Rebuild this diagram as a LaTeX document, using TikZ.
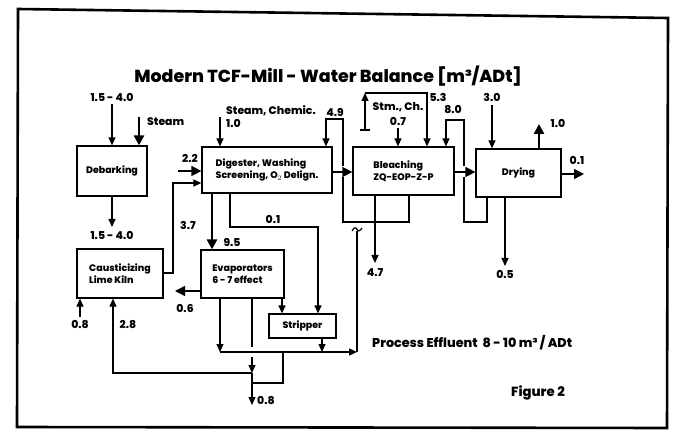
\documentclass[tikz,border=0pt]{standalone}
\usepackage{fontspec}
\setmainfont{Poppins}
\IfFontExistsTF{Poppins ExtraBold}{\newfontfamily\hv{Poppins ExtraBold}}{\newfontfamily\hv{Poppins}[UprightFont=* Bold]}
\usetikzlibrary{arrows.meta,calc}
\begin{document}
\begin{tikzpicture}[x=1bp,y=-1bp,
  box/.style={draw,line width=1.2bp,inner sep=0pt,font=\hv\fontsize{9.5}{12.5}\selectfont,align=left},
  lbl/.style={font=\hv\fontsize{10.9}{11}\selectfont,inner sep=0pt},
  ln/.style={line width=1.2bp},
  arr/.style={ln,-{Triangle[length=8bp,width=7bp]}},
  big/.style={line width=1.4bp,-{Triangle[length=10bp,width=10bp]}},
  thk/.style={line width=2.6bp,-{Triangle[length=10bp,width=10bp]}},
]
\useasboundingbox (0,0) rectangle (679,439);
% frame
\draw[line width=2.6bp] (18,9) -- (668,18) -- (667,428) -- (17,427) -- cycle;
% title
\node[font=\hv\fontsize{17.5}{19}\selectfont,inner sep=0pt] (title) at (328,76) {Modern TCF-Mill - Water Balance [m³/ADt]};

% boxes
\node[box,minimum width=70bp,minimum height=50bp,align=center] (deb) at (112,171) {Debarking};
\node[box,minimum width=86bp,minimum height=49bp] (cau) at (120,273.5) {Causticizing\\Lime Kiln};
\node[box,minimum width=130bp,minimum height=46bp] (dig) at (267,170) {Digester, Washing\\Screening, O$_2$ Delign.};
\node[box,minimum width=83bp,minimum height=48bp] (eva) at (242.5,274) {Evaporators\\6 - 7 effect};
\node[box,minimum width=67bp,minimum height=24bp] (str) at (302.5,326) {Stripper};
\node[box,minimum width=101bp,minimum height=48bp] (ble) at (403.5,171) {Bleaching\\ZQ-EOP-Z-P};
\node[box,minimum width=85bp,minimum height=48bp] (dry) at (518.5,173) {Drying};

% Debarking
\coordinate (d1) at (112,104);
\draw[arr] (d1) -- (deb.north);
\node[lbl] (t1) at (112,97) {1.5 - 4.0};
\coordinate (st) at (139,117);
\draw[thk] (st) -- (139,0 |- deb.north);
\node[lbl,anchor=west] (t2) at (147,122) {Steam};
\coordinate (d2) at (112,227);
\draw[arr] (deb.south) -- (d2);
\node[lbl] (t3) at (112,235) {1.5 - 4.0};

% Causticizing
\draw[arr] (cau.east |- 0,273) -- (173,273) -- (173,183) -- (dig.west |- 0,183);
\node[lbl] (t37) at (188,225) {3.7};
\coordinate (c08) at (80,317);
\draw[arr] (c08) -- (80,0 |- cau.south);
\node[lbl] (t08) at (80,325) {0.8};
\node[lbl] (t28) at (128,325) {2.8};

% Digester inputs
\coordinate (i22) at (178,171);
\draw[big] (i22) -- (dig.west |- i22);
\node[lbl] (t22) at (190,158) {2.2};
\coordinate (sc) at (220,117);
\draw[arr] (sc) -- (220,0 |- dig.north);
\node[lbl,anchor=west] (tsc) at (226,111) {Steam, Chemic.};
\node[lbl,anchor=west] (t10) at (226,123) {1.0};
% 4.9 loop
\draw[ln] (409,0 |- ble.south) -- (409,222) -- (343,222) -- (343,177.5);
\draw[arr] (343,166.5) -- (343,119) -- (326,119) -- (326,0 |- dig.north);
\node[lbl] (t49) at (335,112) {4.9};
% Digester -> Bleaching
\draw[big] (dig.east |- 0,172) -- (ble.west |- 0,172);

% Digester outputs
\draw[thk] (212,0 |- dig.south) -- (212,0 |- eva.north);
\node[lbl] (t95) at (232,242) {9.5};
\draw[arr] (230,0 |- dig.south) -- (230,227) -- (318,227) -- (318,0 |- str.north);
\node[lbl] (t01) at (273,219) {0.1};

% Evaporators
\coordinate (o06) at (175,291);
\draw[big] (eva.west |- o06) -- (o06);
\node[lbl] (t06) at (185,308) {0.6};
\draw[arr] (282,0 |- eva.south) -- (282,0 |- str.north);
\draw[arr] (220,0 |- eva.south) -- (220,352);
\draw[arr] (322,0 |- str.south) -- (322,352);
\coordinate (eff) at (357,352);
\draw[arr] (220,352) -- (eff);
\draw[ln] (eff) -- (357,231);
\draw[ln] (352,231) .. controls (354,227) and (356,227) .. (357,229.5) .. controls (358.5,232) and (360,231) .. (362,228);
\node[lbl,anchor=west,font=\hv\fontsize{12.8}{14}\selectfont] (teff) at (372,343) {Process Effluent\ \ 8 - 10 m³ / ADt};

% lower collector
\draw[ln] (252,0 |- eva.south) -- (252,347);
\draw[arr] (252,357) -- (252,373);
\coordinate (o08) at (252,405);
\draw[arr] (252,373) -- (o08);
\node[lbl,anchor=west] (t08b) at (257,401) {0.8};
\draw[arr] (252,373) -- (113,373) -- (113,0 |- cau.south);
\draw[ln] (283,352) -- (283,383) -- (252,383);

% Bleaching
\node[lbl] (tstm) at (398,107) {Stm., Ch.};
\node[lbl] (t07) at (398,121) {0.7};
\draw[arr] (398,128) -- (398,0 |- ble.north);
\draw[ln] (360,130) -- (370,130);
\draw[arr] (365,130) -- (365,93);
\draw[arr] (365,93) -- (427,93) -- (427,0 |- ble.north);
\node[lbl] (t53) at (438,97) {5.3};
\coordinate (o47) at (375,263);
\draw[arr] (375,0 |- ble.south) -- (o47);
\node[lbl] (t47) at (375,273) {4.7};
% 8.0 loop
\draw[ln] (487,0 |- dry.south) -- (487,222) -- (464,222) -- (464,177.5);
\draw[arr] (464,166.5) -- (464,120) -- (446,120) -- (446,0 |- ble.north);
\node[lbl] (t80) at (453,110) {8.0};
% Bleaching -> Drying
\draw[big] (ble.east |- 0,172) -- (dry.west |- 0,172);

% Drying
\coordinate (i30) at (492,105);
\draw[arr] (i30) -- (492,0 |- dry.north);
\node[lbl] (t30) at (492,97) {3.0};
\coordinate (o10) at (539,124);
\draw[thk] (539,0 |- dry.north) -- (o10);
\node[lbl] (t10b) at (558,123) {1.0};
\coordinate (o01) at (584,174);
\draw[big] (dry.east |- o01) -- (o01);
\node[lbl] (t01b) at (577,160) {0.1};
\coordinate (o05) at (505,266);
\draw[arr] (505,0 |- dry.south) -- (o05);
\node[lbl] (t05) at (505,274) {0.5};

\node[font=\hv\fontsize{13.3}{15}\selectfont,inner sep=0pt] (fig) at (538,393) {Figure 2};
\end{tikzpicture}
\end{document}
